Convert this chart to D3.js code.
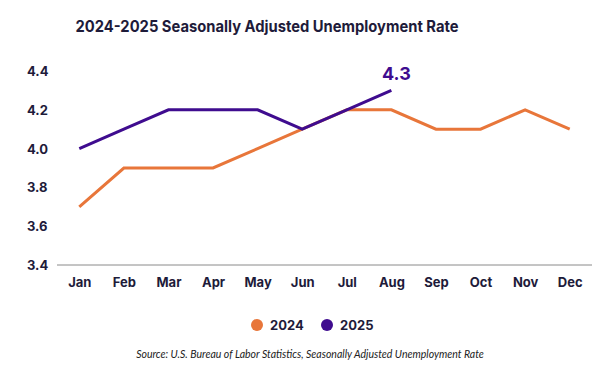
<!DOCTYPE html>
<html>
<head>
<meta charset="utf-8">
<script src="https://cdn.jsdelivr.net/npm/d3@7"></script>
<style>
  body { margin: 0; background: #fff; }
  svg { display: block; font-family: 'Inter', 'Noto Sans', sans-serif; }
</style>
</head>
<body>
<svg id="chart" width="608" height="371"></svg>
<script>
// data
const months = ['Jan', 'Feb', 'Mar', 'Apr', 'May', 'Jun', 'Jul', 'Aug', 'Sep', 'Oct', 'Nov', 'Dec'];
const rate2024 = [3.7, 3.9, 3.9, 3.9, 4.0, 4.1, 4.2, 4.2, 4.1, 4.1, 4.2, 4.1];
const rate2025 = [4.0, 4.1, 4.2, 4.2, 4.2, 4.1, 4.2, 4.3];
const yTicks = [3.4, 3.6, 3.8, 4.0, 4.2, 4.4];
const seriesNames = ['2024', '2025'];

const colors = { '2024': '#e8763a', '2025': '#3f0c8f' };
const ink = '#1e1b3a';

const svg = d3.select('#chart');
const margin = { top: 71, right: 16, bottom: 106, left: 57 };
const width = 608, height = 371;

const x = d3.scalePoint()
  .domain(months)
  .range([margin.left, width - margin.right])
  .padding(0.5);

const y = d3.scaleLinear()
  .domain([3.4, 4.4])
  .range([height - margin.bottom, margin.top]);

// title
svg.append('text')
  .attr('x', 267).attr('y', 32)
  .attr('text-anchor', 'middle')
  .attr('font-size', 15.5).attr('font-weight', 700)
  .attr('fill', ink)
  .attr('textLength', 383)
  .attr('lengthAdjust', 'spacingAndGlyphs')
  .text('2024-2025 Seasonally Adjusted Unemployment Rate');

// y axis labels (no line)
svg.append('g')
  .selectAll('text')
  .data(yTicks)
  .join('text')
  .attr('x', 27)
  .attr('y', d => y(d) + 5)
  .attr('font-size', 13).attr('font-weight', 700)
  .attr('fill', ink)
  .text(d => d.toFixed(1));

// x axis
const xAxis = svg.append('g')
  .attr('transform', 'translate(0,' + y(3.4) + ')')
  .call(d3.axisBottom(x).tickSize(0).tickPadding(13));
xAxis.select('.domain')
  .attr('d', 'M' + margin.left + ',0H' + (width - margin.right))
  .attr('stroke', '#8a8a8a');
xAxis.selectAll('text')
  .attr('font-size', 13).attr('font-weight', 700)
  .attr('font-family', 'Inter, sans-serif')
  .attr('fill', ink);

const line = d3.line()
  .x((d, i) => x(months[i]))
  .y(d => y(d));

svg.append('path')
  .datum(rate2024)
  .attr('d', line)
  .attr('fill', 'none')
  .attr('stroke', colors['2024'])
  .attr('stroke-width', 3);

svg.append('path')
  .datum(rate2025)
  .attr('d', line)
  .attr('fill', 'none')
  .attr('stroke', colors['2025'])
  .attr('stroke-width', 3);

// last value label
const last = rate2025.length - 1;
svg.append('text')
  .attr('x', x(months[last]) + 5)
  .attr('y', y(rate2025[last]) - 10)
  .attr('text-anchor', 'middle')
  .attr('font-size', 18).attr('font-weight', 700)
  .attr('fill', colors['2025'])
  .text(rate2025[last].toFixed(1));

// legend
const legend = svg.append('g').attr('transform', 'translate(257,325)');
const item = legend.selectAll('g')
  .data(seriesNames)
  .join('g')
  .attr('transform', (d, i) => 'translate(' + (i * 70) + ',0)');
item.append('circle')
  .attr('r', 6)
  .attr('fill', d => colors[d]);
item.append('text')
  .attr('x', 13).attr('y', 5)
  .attr('font-size', 13).attr('font-weight', 700)
  .attr('fill', ink)
  .text(d => d);

// source
svg.append('text')
  .attr('x', 310).attr('y', 358)
  .attr('text-anchor', 'middle')
  .attr('font-family', 'Lato, sans-serif')
  .attr('font-size', 10.5).attr('font-style', 'italic')
  .attr('fill', '#222')
  .text('Source: U.S. Bureau of Labor Statistics, Seasonally Adjusted Unemployment Rate');
</script>
</body>
</html>
